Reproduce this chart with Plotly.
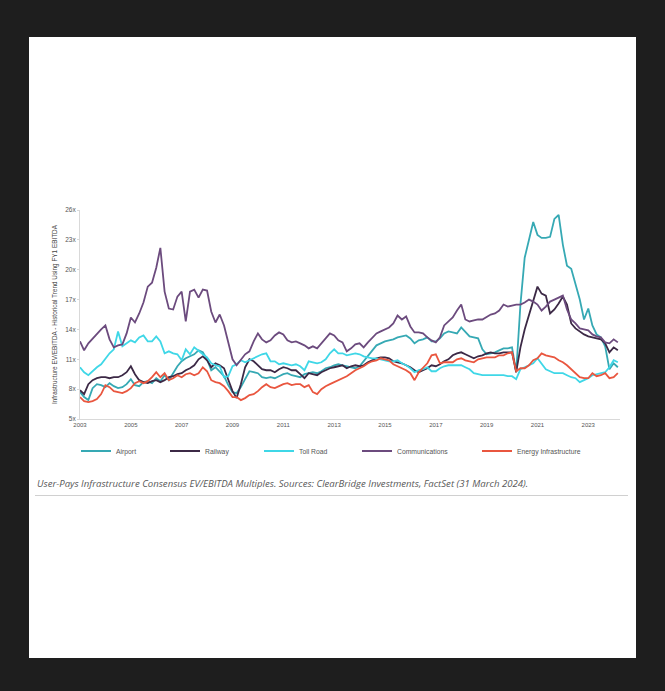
import pandas as pd
import plotly.graph_objects as go

# Bi-monthly observation dates, Jan 2003 - Mar 2024
dates = pd.date_range("2003-01-01", "2024-03-01", freq="2MS")

# Consensus EV / FY1 EBITDA multiples (x) by sector
airport = [
    7.7, 7.2, 6.9, 8.1, 8.5, 8.4,
    8.2, 8.6, 8.3, 8.1, 8.2, 8.5,
    9.0, 8.4, 8.3, 8.7, 8.8, 8.6,
    9.1, 8.8, 9.4, 8.9, 9.6, 10.3,
    10.8, 11.1, 11.3, 11.5, 11.9, 11.7,
    11.0, 9.9, 10.2, 9.8, 9.3, 8.4,
    7.7, 7.6, 8.2, 9.0, 9.8, 9.7,
    9.6, 9.2, 9.1, 9.2, 9.1, 9.3,
    9.5, 9.6, 9.4, 9.3, 9.2, 9.5,
    9.6, 9.7, 9.6, 9.8, 10.1, 10.2,
    10.4, 10.5, 10.4, 10.3, 10.2, 10.1,
    10.3, 10.8, 11.4, 11.8, 12.4, 12.6,
    12.8, 12.9, 13.0, 13.2, 13.3, 13.4,
    13.1, 12.6, 12.9, 13.0, 13.2, 12.8,
    12.8, 13.1, 13.6, 13.8, 13.7, 13.6,
    14.2, 13.7, 13.3, 13.2, 13.1, 12.0,
    11.5, 11.6, 11.7, 11.9, 12.1, 12.1,
    12.2, 9.7, 16.5, 21.2, 23.0, 24.8,
    23.5, 23.2, 23.2, 23.3, 25.1, 25.5,
    22.5, 20.4, 20.1, 18.5, 17.0, 15.0,
    16.1, 14.4, 13.5, 13.2, 12.3, 10.0,
    10.6, 10.2,
]

railway = [
    7.9, 7.5, 8.5, 8.9, 9.1, 9.2,
    9.2, 9.1, 9.2, 9.2, 9.4, 9.7,
    10.3, 9.5, 8.9, 8.7, 8.6, 8.8,
    8.9, 8.7, 8.9, 9.2, 9.3, 9.5,
    9.6, 9.9, 10.1, 10.4, 11.0, 11.3,
    10.9, 10.2, 10.6, 10.4, 10.1, 8.9,
    7.8, 7.1, 8.5, 10.2, 11.0, 10.8,
    10.4, 10.0, 9.9, 9.9, 9.7, 10.0,
    10.2, 10.1, 9.9, 9.9, 9.5, 9.1,
    9.6, 9.5, 9.4, 9.7, 9.9, 10.1,
    10.2, 10.3, 10.4, 10.1, 10.3, 10.4,
    10.3, 10.4, 10.7, 10.9, 11.1, 11.2,
    11.2, 11.1, 10.8, 10.7, 10.6, 10.4,
    10.2, 9.9, 9.7, 9.9, 10.1, 10.4,
    10.3, 10.5, 10.8, 11.0, 11.4, 11.6,
    11.7, 11.5, 11.3, 11.1, 11.3, 11.4,
    11.6, 11.7, 11.6, 11.6, 11.7, 11.7,
    11.7, 9.7, 12.2, 14.0, 15.4, 17.0,
    18.3, 17.6, 17.4, 15.6, 16.0, 16.6,
    17.3, 16.5, 14.6, 14.1, 13.8, 13.5,
    13.3, 13.2, 13.1, 13.0, 12.6, 11.7,
    12.2, 11.9,
]

toll_road = [
    10.2, 9.7, 9.4, 9.8, 10.2, 10.5,
    11.1, 11.6, 12.0, 13.8, 12.3, 12.6,
    12.9, 12.7, 13.2, 13.4, 12.8, 12.8,
    13.3, 12.8, 11.6, 11.8, 11.6, 11.5,
    10.9, 12.0, 11.5, 12.2, 11.8, 11.5,
    11.2, 10.6, 10.4, 10.3, 9.2, 9.3,
    10.3, 10.5, 10.9, 10.7, 10.9, 11.1,
    11.3, 11.5, 11.6, 10.8, 10.8, 10.5,
    10.6, 10.5, 10.4, 10.5, 10.3, 9.9,
    10.8, 10.7, 10.6, 10.7, 11.0, 11.6,
    12.0, 11.6, 11.6, 11.4, 11.5, 11.6,
    11.5, 11.3, 11.2, 11.1, 11.1, 11.0,
    10.9, 10.8, 10.8, 10.9, 10.6, 10.4,
    10.1, 9.7, 9.9, 10.0, 10.2, 9.8,
    9.8, 10.1, 10.3, 10.4, 10.4, 10.4,
    10.4, 10.2, 10.0, 9.6, 9.5, 9.4,
    9.4, 9.4, 9.4, 9.4, 9.4, 9.3,
    9.3, 9.0, 10.0, 10.2, 10.4, 10.6,
    11.1, 10.6, 10.0, 9.8, 9.6, 9.6,
    9.6, 9.4, 9.2, 9.1, 8.7, 8.9,
    9.1, 9.4, 9.5, 9.6, 9.7, 10.2,
    10.9, 10.7,
]

communications = [
    12.8, 11.9, 12.6, 13.1, 13.5, 14.0,
    14.4, 13.0, 12.2, 12.4, 12.5, 13.6,
    15.2, 14.7, 15.6, 16.7, 18.3, 18.7,
    20.2, 22.2, 17.8, 16.1, 16.0, 17.3,
    17.8, 14.8, 17.8, 18.0, 17.2, 18.0,
    17.9, 15.8, 14.7, 15.5, 14.4, 12.6,
    11.0, 10.4, 11.0, 11.5, 11.8, 12.8,
    13.6, 13.0, 12.7, 12.9, 13.4, 13.7,
    13.5, 12.9, 12.7, 12.8, 12.6, 12.4,
    12.1, 12.3, 12.1, 12.6, 13.0, 13.6,
    13.4, 12.9, 12.7, 11.8, 12.1, 12.5,
    12.6, 12.2, 12.7, 13.2, 13.6, 13.8,
    14.0, 14.2, 14.6, 15.4, 15.0, 15.3,
    14.3, 13.7, 13.7, 13.6, 13.2, 12.9,
    12.7, 13.2, 14.4, 14.8, 15.2, 15.9,
    16.5, 15.0, 14.8, 14.9, 15.0, 15.0,
    15.3, 15.5, 15.6, 15.9, 16.5, 16.3,
    16.4, 16.5, 16.5, 16.7, 17.0, 16.8,
    16.5, 15.9, 16.3, 16.8, 17.0, 17.2,
    17.4, 16.0, 15.0, 14.6, 14.1, 14.0,
    13.9, 13.5, 13.3, 13.2, 12.7, 12.6,
    13.0, 12.7,
]

energy = [
    7.2, 6.8, 6.7, 6.8, 7.0, 7.5,
    8.4, 8.2, 7.8, 7.7, 7.6, 7.8,
    8.1, 8.6, 8.8, 8.6, 8.8, 9.2,
    9.7, 9.2, 9.6, 8.9, 9.1, 9.4,
    9.2, 9.5, 9.6, 9.4, 9.6, 10.2,
    9.8, 8.9, 8.7, 8.6, 8.3, 7.8,
    7.2, 7.2, 6.9, 7.1, 7.4, 7.5,
    7.8, 8.2, 8.5, 8.2, 8.1, 8.3,
    8.5, 8.6, 8.4, 8.5, 8.5, 8.2,
    8.4, 7.7, 7.5, 8.0, 8.3, 8.5,
    8.7, 8.9, 9.1, 9.3, 9.6, 9.9,
    10.1, 10.3, 10.6, 10.8, 10.9, 11.1,
    11.0, 10.9, 10.5, 10.3, 10.1, 9.9,
    9.6, 8.9, 9.7, 10.2, 10.6, 11.4,
    11.5, 10.6, 10.7, 10.7, 10.7, 11.0,
    11.1, 10.9, 10.8, 10.7, 11.0, 11.1,
    11.2, 11.2, 11.2, 11.4, 11.4, 11.6,
    11.7, 9.8, 10.1, 10.1, 10.4, 10.9,
    11.1, 11.6, 11.4, 11.3, 11.2, 10.9,
    10.7, 10.4, 10.0, 9.6, 9.2, 9.1,
    9.1, 9.6, 9.3, 9.4, 9.6, 9.1,
    9.2, 9.6,
]

y_ticks = [5, 8, 11, 14, 17, 20, 23, 26]
y_tick_labels = ["5x", "8x", "11x", "14x", "17x", "20x", "23x", "26x"]
caption = ("User-Pays Infrastructure Consensus EV/EBITDA Multiples. "
           "Sources: ClearBridge Investments, FactSet (31 March 2024).")

# Plot-area geometry in pixels (figure is 665 x 691)
W, H = 665, 691
PL, PR, PT, PB = 80, 620, 210, 419
pw, ph = PR - PL, PB - PT


def px(x):
    return (x - PL) / pw


def py(y):
    return (PB - y) / ph


FONT = "Liberation Sans, Arial, sans-serif"
TXT = "#555555"

series = [
    ("Airport", airport, "#36a9b4", "legend", 116),
    ("Railway", railway, "#3c2946", "legend2", 205),
    ("Toll Road", toll_road, "#3fd7e7", "legend3", 299),
    ("Communications", communications, "#6c4b7e", "legend4", 397),
    ("Energy Infrastructure", energy, "#e9563f", "legend5", 517),
]

fig = go.Figure()
legends = {}
for name, vals, color, leg, text_x in series:
    fig.add_trace(go.Scatter(
        x=dates, y=vals, name=name, mode="lines",
        line=dict(color=color, width=1.8),
        legend=leg,
    ))
    legends[leg] = dict(
        x=px(text_x - 40), y=py(451), xanchor="left", yanchor="middle",
        orientation="h", bgcolor="rgba(0,0,0,0)", borderwidth=0,
        font=dict(family=FONT, size=6.8, color=TXT),
    )

fig.update_layout(
    width=W, height=H,
    margin=dict(l=PL, r=W - PR, t=PT, b=H - PB, pad=0),
    paper_bgcolor="#1e1e1e",
    plot_bgcolor="white",
    showlegend=True,
    **legends,
    xaxis=dict(
        type="date",
        range=["2003-01-01", "2024-04-01"],
        tick0="2003-01-01", dtick="M24", tickformat="%Y",
        showgrid=False, zeroline=False,
        showline=True, linecolor="#d9d9d9", linewidth=1,
        ticks="", tickfont=dict(family=FONT, size=6, color=TXT),
    ),
    yaxis=dict(
        range=[5, 26], tickmode="array",
        tickvals=y_ticks, ticktext=y_tick_labels,
        showgrid=False, zeroline=False,
        showline=True, linecolor="#d9d9d9", linewidth=1,
        ticks="outside", ticklen=2, tickcolor="#d9d9d9",
        tickfont=dict(family=FONT, size=6.5, color=TXT),
        title=dict(
            text="Infrastructure EV/EBITDA - Historical Trend Using FY1 EBITDA",
            font=dict(family=FONT, size=6.4, color="#444444"),
            standoff=6,
        ),
    ),
    shapes=[
        # white page panel inside the dark frame
        dict(type="rect", xref="paper", yref="paper", layer="below",
             x0=px(29), x1=px(636), y0=py(658), y1=py(37),
             fillcolor="white", line=dict(width=0)),
        # rule under the caption
        dict(type="line", xref="paper", yref="paper",
             x0=px(35), x1=px(628), y0=py(495.5), y1=py(495.5),
             line=dict(color="#d0d0d0", width=1)),
    ],
    annotations=[
        dict(text="<i>" + caption + "</i>", xref="paper", yref="paper",
             x=px(35), y=py(483), xanchor="left", yanchor="middle",
             showarrow=False,
             font=dict(family="Open Sans, sans-serif", size=9.6, color="#595959")),
    ],
)

fig.write_html("out.html")
